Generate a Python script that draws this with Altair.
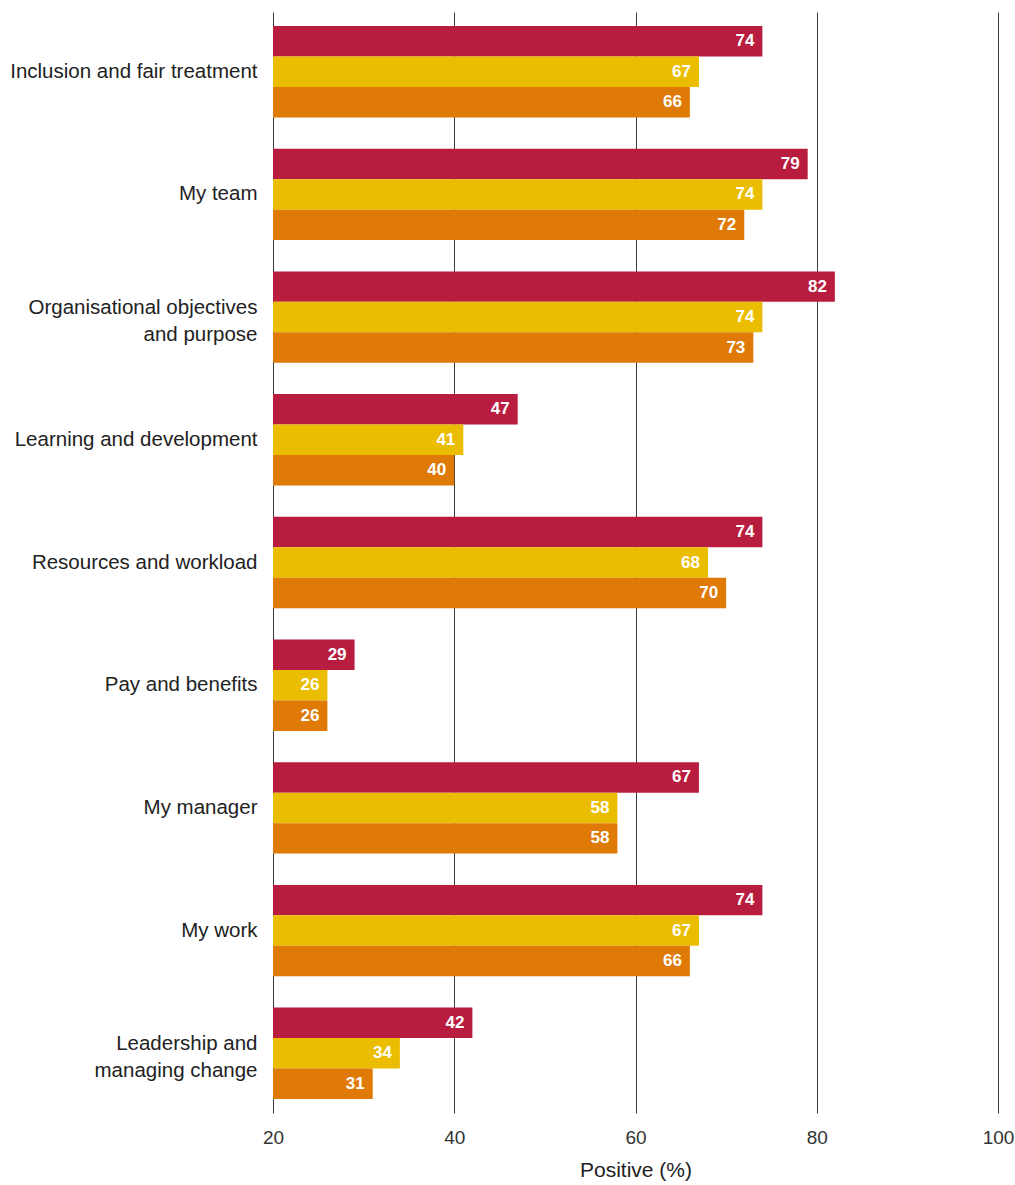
import altair as alt
import pandas as pd

categories = [
    "Inclusion and fair treatment",
    "My team",
    "Organisational objectives\nand purpose",
    "Learning and development",
    "Resources and workload",
    "Pay and benefits",
    "My manager",
    "My work",
    "Leadership and\nmanaging change",
]
series = ["Series 1", "Series 2", "Series 3"]
series1 = [74, 79, 82, 47, 74, 29, 67, 74, 42]
series2 = [67, 74, 74, 41, 68, 26, 58, 67, 34]
series3 = [66, 72, 73, 40, 70, 26, 58, 66, 31]
colors = ["#B81D3F", "#EBBD00", "#E07A07"]

rows = []
for i, c in enumerate(categories):
    for s, vals in zip(series, [series1, series2, series3]):
        rows.append({"category": c, "series": s, "value": vals[i]})
df = pd.DataFrame(rows)

FONT = "Liberation Sans"

y_enc = alt.Y(
    "category:N",
    sort=categories,
    scale=alt.Scale(paddingInner=0.255, paddingOuter=0.114),
    axis=alt.Axis(
        title=None,
        domain=False,
        ticks=False,
        labelPadding=16,
        labelFontSize=20.5,
        labelColor="#222222",
        labelFont=FONT,
        labelLineHeight=27,
        labelExpr="split(datum.label, '\\n')",
        labelOffset={
            "condition": {"test": "indexof(datum.label, '\\n') >= 0", "value": -9},
            "value": 0,
        },
        labelLimit=300,
    ),
)
yoff = alt.YOffset("series:N", sort=series, scale=alt.Scale(paddingInner=0, paddingOuter=0))

x_enc = alt.X(
    "value:Q",
    scale=alt.Scale(domain=[20, 100], nice=False, zero=False),
    axis=alt.Axis(
        title="Positive (%)",
        values=[20, 40, 60, 80, 100],
        domain=False,
        ticks=False,
        grid=True,
        gridColor="#3a3a3a",
        gridWidth=1,
        gridOpacity=1,
        labelFlush=False,
        labelPadding=15,
        labelFontSize=19,
        labelColor="#333333",
        labelFont=FONT,
        titleFont=FONT,
        titleFontSize=21,
        titleFontWeight="normal",
        titleColor="#222222",
        titlePadding=12,
    ),
)

bars = alt.Chart(df).mark_bar().encode(
    y=y_enc,
    yOffset=yoff,
    x=x_enc,
    x2=alt.datum(20),
    color=alt.Color("series:N", sort=series, scale=alt.Scale(domain=series, range=colors), legend=None),
)

labels = alt.Chart(df).mark_text(
    align="right", baseline="middle", dx=-8, color="white", fontSize=17,
    fontWeight="bold", font=FONT
).encode(
    y=alt.Y("category:N", sort=categories),
    yOffset=yoff,
    x=alt.X("value:Q"),
    text=alt.Text("value:Q"),
)

chart = (
    alt.layer(bars, labels)
    .properties(
        width=725,
        height=1101,
        background="white",
        autosize=alt.AutoSizeParams(type="none"),
        padding={"left": 273, "top": 12, "right": 17, "bottom": 72},
    )
    .configure_view(stroke=None, strokeWidth=0)
)

chart.save("out.html", embed_options={"renderer": "svg", "actions": False})
